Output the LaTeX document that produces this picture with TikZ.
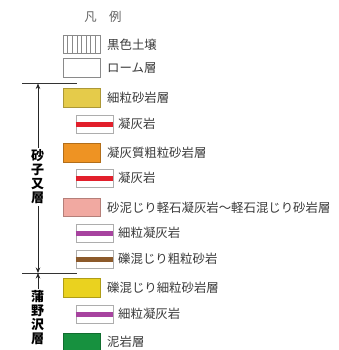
\documentclass[tikz,border=0pt]{standalone}
\usepackage{fontspec}
\setmainfont{Noto Sans CJK JP}
\usetikzlibrary{arrows.meta}
\definecolor{txt}{HTML}{3A3A3A}
\definecolor{boxline}{HTML}{8A8A8A}
\definecolor{cyellow}{HTML}{E5CB4A}
\definecolor{corange}{HTML}{EE9323}
\definecolor{cpink}{HTML}{F1A9A1}
\definecolor{cyellowb}{HTML}{EAD21F}
\definecolor{cgreen}{HTML}{17913F}
\definecolor{cred}{HTML}{E21F2B}
\definecolor{cpurple}{HTML}{A7439F}
\definecolor{cbrown}{HTML}{8C5A2B}
\tikzset{
  bigbox/.style={draw=boxline, line width=0.8pt, minimum width=37pt, minimum height=18.5pt, inner sep=0pt},
  colbox/.style={draw=#1!75!black, fill=#1, line width=0.6pt, minimum width=37pt, minimum height=18.5pt, inner sep=0pt},
  smallbox/.style={draw=boxline!70, line width=0.7pt, minimum width=37pt, minimum height=18pt, inner sep=0pt},
  bar/.style={line width=5pt, draw=#1},
  lbl/.style={anchor=west, inner sep=0pt, text=txt, font=\fontsize{12.4}{14}\selectfont},
  vlbl/.style={align=center, inner sep=2pt, font=\bfseries\fontsize{13}{14}\selectfont},
  sepline/.style={draw=black!80, line width=0.8pt},
  arr/.style={draw=black!85, line width=0.8pt, -{Stealth[length=5.5pt,width=4.5pt]}}
}
\begin{document}
\begin{tikzpicture}[x=1pt,y=-1pt]
\useasboundingbox (0,0) rectangle (338,350);
% title
\node[lbl, anchor=center, text=txt!80] (title) at (103,17) {凡　例};
% legend items
\node[bigbox, path picture={
  \foreach \i in {1,...,7}{\draw[boxline, line width=0.6pt]
    ([xshift=\i*4.625pt]path picture bounding box.north west) --
    ([xshift=\i*4.625pt]path picture bounding box.south west);}
}] (b1) at (81.5,44.5) {};
\node[lbl] (t1) at (107,44.5) {黒色土壌};
\node[bigbox] (b2) at (81.5,68) {};
\node[lbl] (t2) at (107,68) {ローム層};
\node[colbox=cyellow] (b3) at (81.5,98) {};
\node[lbl] (t3) at (107,98) {細粒砂岩層};
\node[smallbox] (s1) at (94.5,124) {};
\draw[bar=cred] (s1.west) -- (s1.east);
\node[lbl] (t4) at (118,124) {凝灰岩};
\node[colbox=corange] (b4) at (81.5,153) {};
\node[lbl] (t5) at (107,153) {凝灰質粗粒砂岩層};
\node[smallbox] (s2) at (94.5,178) {};
\draw[bar=cred] (s2.west) -- (s2.east);
\node[lbl] (t6) at (118,178) {凝灰岩};
\node[colbox=cpink] (b5) at (81.5,207.5) {};
\node[lbl] (t7) at (107,207.5) {砂泥じり軽石凝灰岩〜軽石混じり砂岩層};
\node[smallbox] (s3) at (94.5,233) {};
\draw[bar=cpurple] (s3.west) -- (s3.east);
\node[lbl] (t8) at (118,233) {細粒凝灰岩};
\node[smallbox] (s4) at (94.5,259) {};
\draw[bar=cbrown] (s4.west) -- (s4.east);
\node[lbl] (t9) at (118,259) {礫混じり粗粒砂岩};
\node[colbox=cyellowb] (b6) at (81.5,288) {};
\node[lbl] (t10) at (107,288) {礫混じり細粒砂岩層};
\node[smallbox] (s5) at (94.5,314) {};
\draw[bar=cpurple] (s5.west) -- (s5.east);
\node[lbl] (t11) at (118,314) {細粒凝灰岩};
\node[colbox=cgreen] (b7) at (81.5,342.5) {};
\node[lbl] (t12) at (107,342) {泥岩層};
% boundaries
\coordinate (l1a) at (22,83.5);
\coordinate (l1b) at (77,83.5);
\coordinate (l2a) at (22,273);
\coordinate (l2b) at (77,273);
\draw[sepline] (l1a) -- (l1b);
\draw[sepline] (l2a) -- (l2b);
\coordinate (top1) at (38,83.5);
\coordinate (mid1) at (38,273);
% formation labels
\node[vlbl] (f1) at (37.5,177) {砂\\子\\又\\層};
\node[vlbl] (f2) at (37.5,318) {蒲\\野\\沢\\層};
\draw[arr] (f1.north -| top1) -- (top1);
\draw[arr] (f1.south -| mid1) -- (mid1);
\draw[arr] (f2.north -| mid1) -- (mid1);
\end{tikzpicture}
\end{document}
